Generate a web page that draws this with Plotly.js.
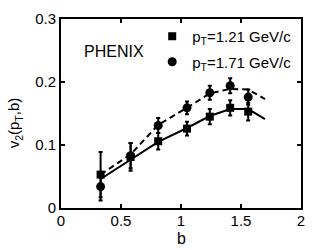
<!DOCTYPE html>
<html>
<head>
<meta charset="utf-8">
<script src="https://cdn.plot.ly/plotly-3.0.1.min.js"></script>
<style>html,body{margin:0;padding:0;background:#fff;}#plot{width:332px;height:250px;}</style>
</head>
<body>
<div id="plot"></div>
<script>
// Data
var bPoints = [0.33, 0.58, 0.81, 1.05, 1.24, 1.41, 1.56];
var v2Low = [0.053, 0.081, 0.106, 0.126, 0.145, 0.159, 0.153];
var errLow = [0.036, 0.022, 0.013, 0.011, 0.012, 0.012, 0.014];
var v2High = [0.034, 0.083, 0.131, 0.159, 0.183, 0.194, 0.176];
var errHigh = [0.022, 0.020, 0.012, 0.010, 0.011, 0.012, 0.012];

var bCurve = [0.33, 0.58, 0.81, 1.05, 1.24, 1.41, 1.56, 1.70];
var curveLow = [0.046, 0.077, 0.105, 0.127, 0.146, 0.157, 0.157, 0.141];
var curveHigh = [0.053, 0.085, 0.132, 0.159, 0.182, 0.189, 0.188, 0.173];

var xTicks = [0, 0.5, 1, 1.5, 2];
var xTickText = ["0", "0.5", "1", "1.5", "2"];
var yTicks = [0, 0.1, 0.2, 0.3];
var yTickText = ["0", "0.1", "0.2", "0.3"];

var labelLow = "p<sub>T</sub>=1.21 GeV/c";
var labelHigh = "p<sub>T</sub>=1.71 GeV/c";

var FONT = "Liberation Sans, Arial, sans-serif";

var traces = [
  {x: bCurve, y: curveLow, mode: "lines", line: {color: "#000", width: 2}, showlegend: false, hoverinfo: "skip"},
  {x: bCurve, y: curveHigh, mode: "lines", line: {color: "#000", width: 2, dash: "6px,4px"}, showlegend: false, hoverinfo: "skip"},
  {x: bPoints, y: v2Low, mode: "markers", name: labelLow, legend: "legend",
   marker: {symbol: "square", size: 8, color: "#000"},
   error_y: {type: "data", array: errLow, color: "#000", thickness: 2, width: 2}},
  {x: bPoints, y: v2High, mode: "markers", name: labelHigh, legend: "legend2",
   marker: {symbol: "circle", size: 9, color: "#000"},
   error_y: {type: "data", array: errHigh, color: "#000", thickness: 2, width: 2}}
];

var axisCommon = {
  showgrid: false, zeroline: false, showline: true, linecolor: "#000", linewidth: 2,
  mirror: "ticks", ticks: "inside", ticklen: 4, tickwidth: 1.5, tickcolor: "#000",
  tickfont: {family: FONT, size: 15, color: "#000"}
};

var layout = {
  width: 332, height: 250,
  margin: {l: 61, r: 31, t: 19, b: 42},
  paper_bgcolor: "#fff", plot_bgcolor: "#fff",
  font: {family: FONT, color: "#000"},
  xaxis: Object.assign({}, axisCommon, {range: [0, 2], tickvals: xTicks, ticktext: xTickText, ticklabelstandoff: -2}),
  yaxis: Object.assign({}, axisCommon, {range: [0, 0.3], tickvals: yTicks, ticktext: yTickText}),
  legend: {x: 0.38, y: 0.995, xanchor: "left", yanchor: "top", bgcolor: "rgba(0,0,0,0)",
           font: {family: FONT, size: 15, color: "#000"}, itemwidth: 30},
  legend2: {x: 0.38, y: 0.86, xanchor: "left", yanchor: "top", bgcolor: "rgba(0,0,0,0)",
           font: {family: FONT, size: 15, color: "#000"}, itemwidth: 30},
  annotations: [
    {text: "PHENIX", xref: "paper", yref: "paper", x: 0.088, y: 0.83, xanchor: "left", yanchor: "middle",
     showarrow: false, font: {family: FONT, size: 16, color: "#000"}},
    {text: "v<sub>2</sub>(p<sub>T</sub>,b)", xref: "paper", yref: "paper", x: -0.19, y: 0.45,
     xanchor: "center", yanchor: "middle", textangle: -90, showarrow: false,
     font: {family: FONT, size: 15, color: "#000"}},
    {text: "b", xref: "paper", yref: "paper", x: 0.5, y: -0.16, xanchor: "center", yanchor: "middle",
     showarrow: false, font: {family: FONT, size: 16, color: "#000"}}
  ]
};

Plotly.newPlot("plot", traces, layout, {staticPlot: true, displayModeBar: false});
</script>
</body>
</html>
